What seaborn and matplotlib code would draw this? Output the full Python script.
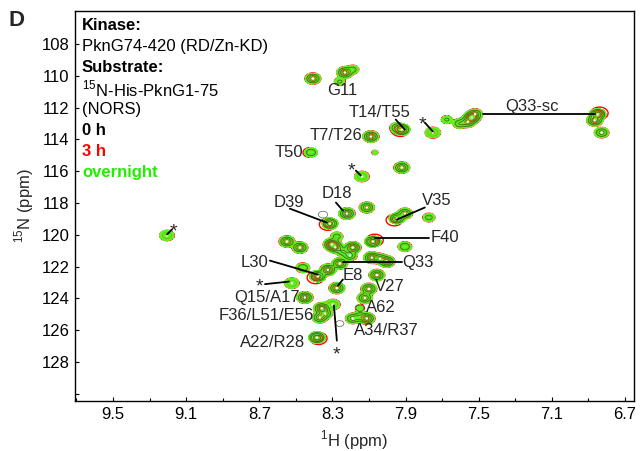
import numpy as np
import matplotlib
matplotlib.use("Agg")
import matplotlib.pyplot as plt
import seaborn as sns
import pandas as pd

# ---------------- data ----------------
# peak positions (1H ppm, 15N ppm) and overnight / 0 h intensities
peak_h = [8.407, 8.232, 8.189, 8.260, 8.090, 8.418, 7.921, 7.948, 7.751, 7.675,
          7.604, 7.538, 7.560, 7.520, 6.850, 6.866, 6.828, 8.068, 8.139, 7.921,
          9.205, 8.221, 8.112, 8.352, 8.314, 7.948, 7.904, 7.773, 8.276, 8.079,
          7.904, 8.549, 8.478, 8.303, 8.285, 8.189, 8.243, 8.205, 8.085, 8.003,
          8.040, 8.462, 8.325, 8.260, 8.380, 8.522, 8.276, 8.057, 8.101, 8.123,
          8.150, 8.112, 8.189, 8.150, 8.260, 8.451, 8.358, 8.369, 8.340, 8.298,
          8.385]
peak_n = [110.17, 109.79, 109.60, 110.36, 113.82, 114.82, 113.38, 113.25, 113.57, 112.75,
          113.00, 112.62, 112.90, 112.40, 112.43, 112.80, 113.57, 114.82, 116.33, 115.77,
          120.04, 118.66, 118.28, 118.72, 119.29, 118.97, 118.66, 118.91, 120.10, 120.42,
          120.74, 120.42, 120.80, 120.60, 120.78, 120.80, 121.05, 121.30, 121.43, 121.68,
          121.50, 122.07, 122.20, 121.80, 122.60, 123.04, 123.35, 122.53, 123.40, 123.97,
          124.60, 125.26, 125.26, 125.15, 125.58, 123.94, 124.63, 125.20, 124.95, 124.38,
          126.46]
amp_overnight = [12, 14, 4, 3, 14, 6, 18, 6, 10, 3,
                 6, 22, 10, 8, 20, 14, 8, 1.3, 8, 12,
                 8, 14, 10, 0, 16, 14, 10, 4, 4, 18,
                 6, 12, 12, 20, 12, 16, 6, 8, 14, 14,
                 8, 6, 14, 12, 18, 8, 12, 12, 12, 10,
                 2, 14, 8, 6, 0, 14, 16, 10, 8, 8,
                 20]
amp_0h = [12, 14, 4, 3, 14, 6, 18, 6, 0, 3,
          6, 22, 10, 8, 20, 14, 8, 1.3, 0, 12,
          0, 14, 10, 6, 16, 14, 10, 4, 4, 18,
          6, 12, 12, 20, 12, 16, 6, 8, 14, 14,
          8, 6, 14, 12, 18, 0, 12, 12, 12, 10,
          5, 14, 8, 6, 5, 14, 16, 10, 8, 0,
          20]
# 3 h spectrum: small chemical-shift changes (index: (dH, dN))
shift_3h = {6: (0.008, 0.05), 24: (0.012, 0.05), 25: (0.014, 0.10),
            29: (-0.010, -0.08), 44: (0.012, 0.09), 14: (-0.010, -0.08),
            60: (-0.008, 0.05), 5: (0.006, 0.0)}

# residue labels: (text, text_H, text_N, line_from_H, line_from_N, line_to_H, line_to_N, ha)
labels = [
    ("G11", 8.249, 110.92, None, None, None, None, "center"),
    ("T14/T55", 8.041, 112.31, 7.954, 112.75, 7.904, 113.38, "center"),
    ("Q33-sc", 7.210, 111.93, 7.478, 112.37, 6.866, 112.37, "center"),
    ("T7/T26", 8.134, 113.75, None, None, None, None, "right"),
    ("T50", 8.462, 114.82, None, None, None, None, "right"),
    ("D18", 8.276, 117.40, 8.281, 117.97, 8.243, 118.47, "center"),
    ("D39", 8.538, 117.97, 8.533, 118.35, 8.331, 119.23, "center"),
    ("V35", 7.730, 117.84, 7.795, 118.28, 7.948, 119.04, "center"),
    ("F40", 7.686, 120.17, 8.068, 120.17, 7.773, 120.17, "center"),
    ("Q33", 7.833, 121.74, 8.243, 121.68, 7.921, 121.68, "center"),
    ("L30", 8.724, 121.74, 8.642, 121.62, 8.380, 122.50, "center"),
    ("E8", 8.189, 122.56, 8.243, 122.81, 8.270, 123.19, "center"),
    ("V27", 7.986, 123.25, None, None, None, None, "center"),
    ("Q15/A17", 8.658, 123.94, None, None, None, None, "center"),
    ("F36/L51/E56", 8.664, 125.08, None, None, None, None, "center"),
    ("A62", 8.036, 124.57, None, None, None, None, "center"),
    ("A34/R37", 8.003, 126.02, None, None, None, None, "center"),
    ("A22/R28", 8.626, 126.77, None, None, None, None, "center"),
]
# asterisks: (star_H, star_N, line_from_H, line_from_N, line_to_H, line_to_N)
stars = [
    (7.806, 112.69, 7.795, 112.94, 7.751, 113.50),
    (8.194, 115.58, 8.172, 115.96, 8.145, 116.27),
    (9.167, 119.41, 9.205, 119.98, 9.178, 119.66),
    (8.700, 122.85, 8.669, 123.10, 8.538, 122.94),
    (8.276, 127.15, 8.292, 124.44, 8.276, 126.65),
]
info_lines = [("Kinase:", "bold", "black"),
              ("PknG74-420 (RD/Zn-KD)", "normal", "black"),
              ("Substrate:", "bold", "black"),
              ("$^{15}$N-His-PknG1-75", "normal", "black"),
              ("(NORS)", "normal", "black"),
              ("0 h", "bold", "black"),
              ("3 h", "bold", "#ff0000"),
              ("overnight", "bold", "#22ee00")]
x_ticks = [9.5, 9.1, 8.7, 8.3, 7.9, 7.5, 7.1, 6.7]
y_ticks = [108, 110, 112, 114, 116, 118, 120, 122, 124, 126, 128]

# ---------------- figure ----------------
sns.set_theme(style="ticks")
plt.rcParams["font.family"] = ["Liberation Sans", "DejaVu Sans"]
plt.rcParams["mathtext.fontset"] = "custom"
plt.rcParams["mathtext.rm"] = "Liberation Sans"

fig = plt.figure(figsize=(6.4, 4.51), dpi=100)
ax = fig.add_axes([75 / 640, 1 - 401 / 451, (634 - 75) / 640, (401 - 11) / 451])

xmin, xmax = 6.651, 9.708
ymin, ymax = 105.92, 130.45
gx = np.linspace(xmin, xmax, 1800)
gy = np.linspace(ymin, ymax, 1000)
X, Y = np.meshgrid(gx, gy)
sx, sy = 0.019, 0.155


def spectrum(hs, ns, amps):
    Z = np.zeros((gy.size, gx.size))
    for h, n, a in zip(hs, ns, amps):
        if a <= 0:
            continue
        ex = np.exp(-0.5 * ((gx - h) / sx) ** 2)
        ey = np.exp(-0.5 * ((gy - n) / sy) ** 2)
        Z += a * np.outer(ey, ex)
    return Z


df = pd.DataFrame({"H": peak_h, "N": peak_n,
                   "on": amp_overnight, "h0": amp_0h})
h3 = [h + shift_3h.get(i, (0, 0))[0] for i, h in enumerate(peak_h)]
n3 = [n + shift_3h.get(i, (0, 0))[1] for i, n in enumerate(peak_n)]

Z_on = spectrum(df["H"], df["N"], df["on"])
Z_0 = spectrum(df["H"], df["N"], df["h0"])
Z_3 = spectrum(h3, n3, amp_overnight)

# 3 h (red) outer contour below the green fill
ax.contour(X, Y, Z_3, levels=[0.9], colors="#ff0000", linewidths=1.0, zorder=1)
# overnight (green) filled
ax.contourf(X, Y, Z_on, levels=[1.0, 1e6], colors=["#66ee22"], zorder=2)
ax.contour(X, Y, Z_on, levels=[3.5], colors="#55cc11", linewidths=0.6, zorder=3)
# 0 h (black) contours
ax.contour(X, Y, Z_0, levels=[2.5, 6, 12], colors="#333322", linewidths=0.5,
           alpha=0.8, zorder=4)
# 3 h inner
ax.contour(X, Y, Z_3, levels=[9, 16], colors="#dd2200", linewidths=0.5,
           alpha=0.8, zorder=5)

# peak centres
sns.scatterplot(data=df[df["on"] >= 8], x="H", y="N", ax=ax, s=3,
                color="#ffffff", edgecolor="none", zorder=6, legend=False)

fs = 12
for txt, th, tn, fh, fn, eh, en, ha in labels:
    ax.text(th, tn, txt, fontsize=fs, ha=ha, va="center", zorder=8)
    if fh is not None:
        ax.plot([fh, eh], [fn, en], color="black", lw=1.3, zorder=7)
for sh, sn, fh, fn, eh, en in stars:
    ax.text(sh, sn + 0.4, "*", fontsize=14, ha="center", va="center", zorder=8)
    ax.plot([fh, eh], [fn, en], color="black", lw=1.3, zorder=7)

for i, (txt, w, c) in enumerate(info_lines):
    ax.text(0.0125, 0.962 - i * 0.0538, txt, transform=ax.transAxes,
            fontsize=fs, fontweight=w, color=c, ha="left", va="center", zorder=9)

ax.set_xlim(xmax, xmin)
ax.set_ylim(ymax, ymin)
ax.set_xticks(x_ticks)
ax.set_xticklabels([f"{v:.1f}" for v in x_ticks])
ax.set_xticks(np.arange(9.7, 6.6, -0.2), minor=True)
ax.set_yticks(y_ticks + [130])
ax.set_yticklabels([str(v) for v in y_ticks] + [""])
ax.tick_params(axis="both", which="both", direction="in", length=3, width=0.8,
               labelsize=fs, colors="black", pad=4)
ax.tick_params(axis="x", which="minor", length=2)
for s in ax.spines.values():
    s.set_linewidth(1.0)
    s.set_color("black")
ax.set_xlabel("$^{1}$H (ppm)", fontsize=fs, labelpad=5)
ax.set_ylabel("$^{15}$N (ppm)", fontsize=fs, labelpad=4)
ax.grid(False)

fig.text(8 / 640, 1 - 20 / 451, "D", fontsize=16, fontweight="bold",
         ha="left", va="center")

fig.savefig("out.png", dpi=100)
